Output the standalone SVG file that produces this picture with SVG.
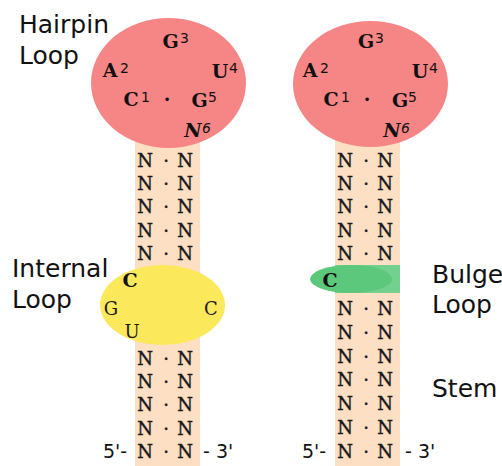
<svg xmlns="http://www.w3.org/2000/svg" width="502" height="466" viewBox="0 0 502 466">
<style>
.lbl{font-family:"DejaVu Sans",Verdana,sans-serif;font-size:25px;fill:#111}
.end{font-family:"DejaVu Sans",Verdana,sans-serif;font-size:19px;fill:#111}
.nt{font-family:"DejaVu Serif","Liberation Serif",serif;font-size:19px;font-weight:bold;fill:#111;text-anchor:middle}
.it{font-style:italic}
.sup{font-family:"DejaVu Sans",Verdana,sans-serif;font-size:14px;fill:#111}
.pr{font-family:"DejaVu Serif","Liberation Serif",serif;font-size:18px;fill:#1a1a1a;stroke:#1a1a1a;stroke-width:0.4;text-anchor:middle}
.lo{font-family:"DejaVu Serif","Liberation Serif",serif;font-size:18px;fill:#1a1a1a;text-anchor:middle}
.stem{fill:#fddfc4}
.pink{fill:#f68585}
</style>

<g id="stem-left">
<rect class="stem" x="135" y="140" width="65" height="326"/>
</g>
<g id="stem-right">
<rect class="stem" x="335" y="140" width="65" height="326"/>
</g>

<g id="hairpin-left">
<ellipse class="pink" cx="168.5" cy="83" rx="77.5" ry="65"/>
<text class="nt" x="170.5" y="48">G</text><text class="sup" x="180" y="43">3</text>
<text class="nt" x="110" y="77">A</text><text class="sup" x="120" y="73">2</text>
<text class="nt" x="220" y="78">U</text><text class="sup" x="229" y="73">4</text>
<text class="nt" x="131" y="106">C</text><text class="sup" x="141" y="102">1</text>
<text class="nt" x="167" y="106">·</text>
<text class="nt" x="199.5" y="107">G</text><text class="sup" x="208" y="102">5</text>
<text class="nt it" x="193" y="137">N</text><text class="sup it" x="202" y="133">6</text>
</g>

<g id="hairpin-right">
<ellipse class="pink" cx="370.5" cy="84" rx="77.5" ry="63"/>
<text class="nt" x="366" y="48">G</text><text class="sup" x="375" y="43">3</text>
<text class="nt" x="310" y="77">A</text><text class="sup" x="320" y="73">2</text>
<text class="nt" x="420" y="78">U</text><text class="sup" x="429" y="73">4</text>
<text class="nt" x="331" y="106">C</text><text class="sup" x="341" y="102">1</text>
<text class="nt" x="367" y="106">·</text>
<text class="nt" x="400" y="107">G</text><text class="sup" x="408" y="102">5</text>
<text class="nt it" x="392" y="137">N</text><text class="sup it" x="401" y="133">6</text>
</g>

<g id="stem-left-pairs-top">
<text class="pr" x="145 166 185" y="167">N·N</text>
<text class="pr" x="145 166 185" y="190">N·N</text>
<text class="pr" x="145 166 185" y="213">N·N</text>
<text class="pr" x="145 166 185" y="237">N·N</text>
<text class="pr" x="145 166 185" y="260">N·N</text>
</g>

<g id="internal-loop">
<ellipse cx="162.5" cy="305" rx="62.5" ry="40" fill="#fce85b"/>
<text class="nt" x="130" y="287">C</text>
<text class="lo" x="111" y="315">G</text>
<text class="lo" x="211" y="315">C</text>
<text class="lo" x="132" y="338">U</text>
</g>

<g id="stem-left-pairs-bottom">
<text class="pr" x="145 166 185" y="365">N·N</text>
<text class="pr" x="145 166 185" y="388">N·N</text>
<text class="pr" x="145 166 185" y="411">N·N</text>
<text class="pr" x="145 166 185" y="435">N·N</text>
<text class="pr" x="145 166 185" y="458">N·N</text>
<text class="end" x="103" y="458">5'-</text>
<text class="end" x="203" y="458">- 3'</text>
</g>

<g id="stem-right-pairs-top">
<text class="pr" x="345 366 385" y="167">N·N</text>
<text class="pr" x="345 366 385" y="190">N·N</text>
<text class="pr" x="345 366 385" y="213">N·N</text>
<text class="pr" x="345 366 385" y="237">N·N</text>
<text class="pr" x="345 366 385" y="260">N·N</text>
</g>

<g id="bulge-loop">
<rect x="335" y="265" width="65" height="28" fill="#74d08e"/>
<ellipse cx="351" cy="279" rx="41" ry="14" fill="#5cc87b"/>
<text class="nt" x="330" y="287">C</text>
</g>

<g id="stem-right-pairs-bottom">
<text class="pr" x="345 366 385" y="315">N·N</text>
<text class="pr" x="345 366 385" y="339">N·N</text>
<text class="pr" x="345 366 385" y="363">N·N</text>
<text class="pr" x="345 366 385" y="386">N·N</text>
<text class="pr" x="345 366 385" y="410">N·N</text>
<text class="pr" x="345 366 385" y="434">N·N</text>
<text class="pr" x="345 366 385" y="458">N·N</text>
<text class="end" x="302" y="458">5'-</text>
<text class="end" x="405" y="458">- 3'</text>
</g>

<g id="labels">
<text class="lbl" x="19" y="33">Hairpin</text>
<text class="lbl" x="19" y="64">Loop</text>
<text class="lbl" x="12" y="277">Internal</text>
<text class="lbl" x="12" y="308">Loop</text>
<text class="lbl" x="432" y="283">Bulge</text>
<text class="lbl" x="432" y="313">Loop</text>
<text class="lbl" x="432" y="397">Stem</text>
</g>
</svg>
